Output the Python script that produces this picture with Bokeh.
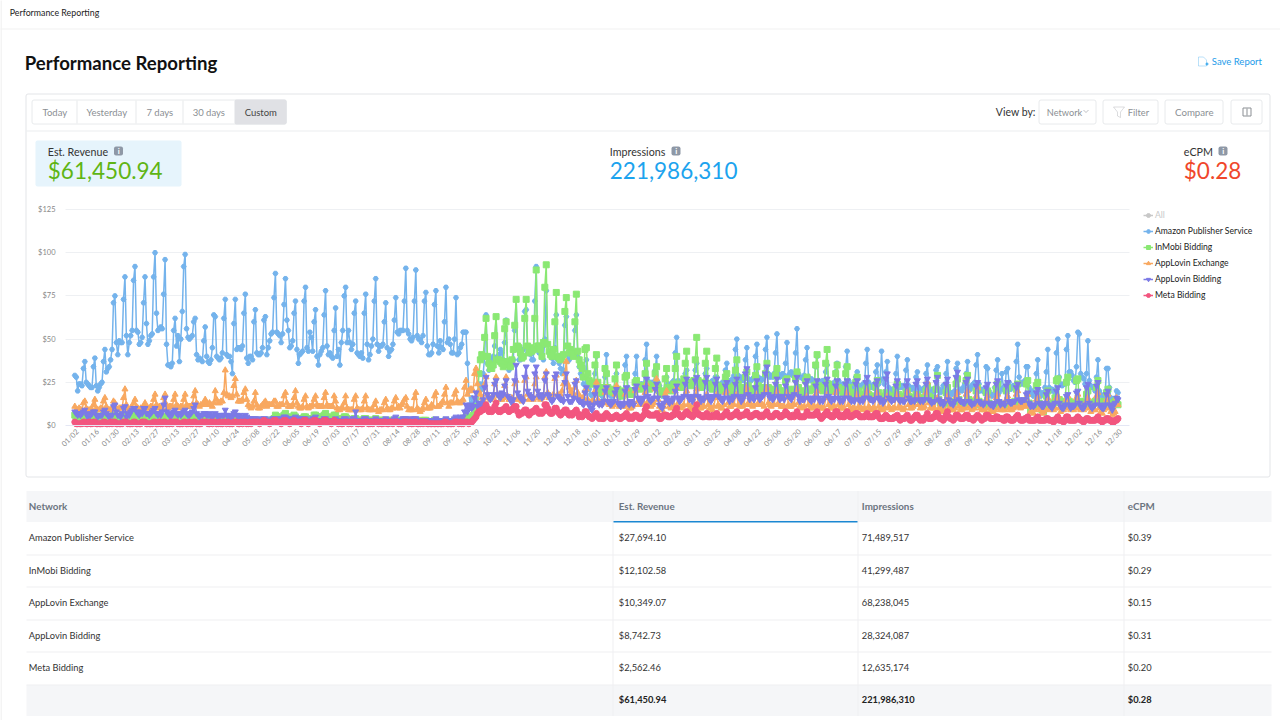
from bokeh.plotting import figure
from bokeh.models import Range1d, FixedTicker, Label, BoxAnnotation, PolyAnnotation, Legend, LegendItem
from bokeh.embed import file_html
from bokeh.resources import INLINE
import math

tick_labels = "01/02 01/16 01/30 02/13 02/27 03/13 03/27 04/10 04/24 05/08 05/22 06/05 06/19 07/03 07/17 07/31 08/14 08/28 09/11 09/25 10/09 10/23 11/06 11/20 12/04 12/18 01/01 01/15 01/29 02/12 02/26 03/11 03/25 04/08 04/22 05/06 05/20 06/03 06/17 07/01 07/15 07/29 08/12 08/26 09/09 09/23 10/07 10/21 11/04 11/18 12/02 12/16 12/30".split()
y_ticks = [0,25,50,75,100,125]
names = ["Amazon Publisher Service","InMobi Bidding","AppLovin Exchange","AppLovin Bidding","Meta Bidding"]
colors = ["#74b3ec","#8ae873","#f8a860","#7c7ae6","#f2557f"]
markers = ["hex","square","triangle","inverted_triangle","circle"]
rows = [("Amazon Publisher Service","$27,694.10","71,489,517","$0.39"),("InMobi Bidding","$12,102.58","41,299,487","$0.29"),("AppLovin Exchange","$10,349.07","68,238,045","$0.15"),("AppLovin Bidding","$8,742.73","28,324,087","$0.31"),("Meta Bidding","$2,562.46","12,635,174","$0.20")]

amazon = [29,28,20,24,24,23,33,
37,25,24,23,22,22,34,
39,23,20,22,24,25,37,
44,31,33,34,38,44,71,
75,48,41,49,48,48,73,
86,52,41,48,52,55,84,
92,55,54,47,48,51,71,
86,59,47,49,52,53,86,
100,65,55,56,57,56,76,
96,47,35,35,34,36,55,
62,46,52,37,50,66,92,
99,56,51,50,51,52,60,
62,41,38,39,38,37,49,
57,40,37,36,38,45,64,
63,40,39,38,39,42,62,
73,41,40,40,37,30,59,
73,44,45,45,44,46,65,
76,39,36,40,40,38,60,
67,42,41,41,42,45,61,
63,41,45,49,53,54,74,
88,54,53,52,48,53,70,
85,61,55,45,46,49,65,
72,44,36,41,42,43,72,
80,45,43,54,51,43,60,
67,40,35,41,43,45,64,
78,46,41,42,40,39,55,
68,40,44,35,48,55,75,
80,48,55,48,44,47,65,
72,42,41,40,42,39,65,
76,47,38,41,46,50,72,
85,47,43,46,46,47,60,
71,45,40,43,44,47,61,
74,54,53,55,55,55,72,
91,55,53,50,49,51,72,
90,52,50,50,48,52,72,
77,46,41,41,42,47,70,
78,46,42,49,45,44,60,
80,48,50,47,42,42,50,
74,41,42,45,47,54,54,
54,36,20,10,16,10,12,
14,12,20,24,21,30,40,
64,36,32,35,38,40,46,
63,40,41,44,42,38,48,
61,36,32,36,34,38,55,
73,44,38,38,40,44,66,
67,42,44,41,38,38,72,
92,44,42,43,41,38,50,
78,47,42,41,39,36,45,
64,38,36,33,30,32,58,
63,37,38,40,41,42,55,
64,40,34,30,28,24,20,
38,24,21,18,17,18,30,
40,22,18,18,17,15,28,
41,21,18,17,17,18,27,
30,18,16,17,18,19,35,
40,22,19,18,19,18,30,
40,24,23,24,24,23,38,
47,26,24,24,25,25,32,
40,25,23,18,17,19,27,
28,24,23,24,25,26,42,
51,26,25,25,23,24,30,
32,24,23,25,25,26,32,
36,27,25,25,24,25,30,
33,25,24,25,26,25,28,
28,24,23,24,25,25,32,
36,26,25,26,27,29,44,
50,29,27,28,26,27,38,
45,27,26,26,27,28,40,
47,28,27,26,27,28,44,
51,30,28,29,28,30,42,
53,30,28,29,30,29,36,
48,29,30,31,29,30,42,
56,30,28,28,27,29,38,
45,28,26,27,26,25,34,
40,26,24,25,26,24,31,
35,25,24,23,24,25,31,
36,26,24,23,24,23,34,
43,26,24,23,24,22,28,
31,23,22,23,24,23,36,
44,25,23,22,23,24,31,
35,24,26,43,27,24,31,
37,22,20,21,20,21,30,
40,24,22,23,22,23,32,
38,23,22,21,22,21,28,
31,22,20,21,20,22,30,
35,22,20,19,21,20,32,
34,21,19,20,23,22,30,
37,20,18,19,18,20,33,
36,20,21,20,22,24,30,
37,22,21,23,24,25,35,
41,24,20,21,20,19,34,
33,20,18,17,18,22,32,
38,19,21,30,22,20,31,
33,25,21,22,23,23,37,
47,28,24,25,24,26,34,
34,22,18,20,17,19,30,
38,20,17,18,19,22,31,
44,22,20,21,20,19,42,
50,28,24,23,24,24,44,
52,31,31,29,26,25,34,
54,53,30,28,27,24,30,
49,26,23,22,22,20,28,
38,20,18,17,16,18,33,
33,22,16,15,14,15,20,
19]

inmobi = [6,5,4,4,5,5,6,
6,5,4,5,4,5,6,
6,5,4,4,5,5,6,
6,4,5,4,5,5,6,
6,5,4,4,5,4,6,
6,5,4,5,5,5,6,
6,5,5,4,5,5,6,
6,4,4,5,4,5,6,
5,5,4,4,5,4,5,
5,4,4,4,5,4,5,
5,4,3,4,4,4,5,
5,4,4,3,4,4,5,
5,4,3,4,3,4,4,
4,4,3,3,4,3,4,
4,3,3,3,4,3,4,
4,3,3,3,3,3,4,
4,3,3,3,3,3,3,
3,3,2,3,2,3,3,
3,3,2,2,3,2,3,
3,2,2,3,3,3,4,
6,5,5,4,4,4,6,
7,5,4,4,4,5,6,
5,4,3,4,4,4,5,
5,4,4,4,4,4,6,
6,5,4,4,5,5,6,
7,5,4,4,4,5,6,
6,4,4,4,4,4,5,
5,4,3,3,3,3,4,
4,3,3,3,3,3,4,
4,3,3,3,3,3,3,
4,3,2,3,3,3,3,
3,3,2,2,3,3,3,
3,3,2,3,2,3,3,
3,2,2,2,3,2,3,
3,2,2,3,2,2,3,
3,2,2,2,2,2,3,
3,2,2,2,2,2,2,
3,2,2,2,2,2,3,
3,3,2,3,3,3,4,
5,4,4,4,5,6,6,
7,11,30,38,41,40,51,
62,40,36,33,33,35,52,
63,38,38,37,36,34,56,
60,37,35,34,38,44,58,
73,46,45,42,39,40,62,
73,46,42,45,43,44,62,
90,46,46,44,40,48,80,
93,47,43,41,40,44,60,
77,40,39,38,40,41,66,
74,46,42,44,42,40,60,
76,43,38,35,33,28,44,
45,30,26,24,24,25,35,
41,25,21,19,21,22,33,
30,22,20,20,21,19,27,
35,21,18,20,17,19,28,
29,19,18,20,18,20,25,
26,23,22,21,23,22,30,
36,24,21,22,23,22,30,
34,23,20,19,18,20,27,
33,22,21,20,22,24,33,
40,24,23,22,23,27,36,
43,25,24,23,25,26,38,
51,26,24,22,23,25,36,
43,24,22,23,21,22,33,
39,23,21,20,21,22,28,
30,22,20,19,21,23,32,
38,24,21,21,20,22,28,
31,23,21,20,21,21,29,
34,23,20,21,20,22,30,
36,22,21,20,21,20,29,
33,22,20,20,19,20,26,
27,21,20,19,20,21,27,
31,22,19,20,19,20,26,
28,21,20,21,21,23,35,
41,23,21,22,20,21,36,
44,24,21,20,21,20,30,
35,22,20,21,19,20,30,
34,22,19,18,19,18,25,
28,20,18,17,18,17,21,
22,18,17,16,17,17,22,
26,19,17,16,15,16,19,
18,17,16,16,17,17,21,
24,18,16,15,16,17,19,
20,17,16,15,16,15,18,
18,16,15,16,15,16,20,
23,17,16,15,16,15,21,
29,15,13,12,12,13,19,
22,14,12,13,12,14,24,
27,15,13,12,12,13,26,
29,15,12,13,12,14,20,
22,14,12,13,11,12,19,
20,13,12,10,11,12,21,
24,13,12,10,11,12,20,
22,13,11,12,13,14,21,
24,14,12,13,12,13,24,
26,13,9,11,10,11,23,
25,13,11,9,8,10,17,
20,12,12,11,13,16,26,
27,15,13,13,12,14,25,
28,14,12,12,11,13,26,
27,14,12,13,12,14,18,
20,13,12,12,13,14,22,
26,14,12,11,13,14,19,
21,13,12,11,13,14,15,
12]

exchange = [11,9,9,10,9,9,13,
14,10,9,9,9,9,12,
15,10,9,9,10,10,14,
16,11,9,9,9,10,14,
13,10,9,10,10,10,16,
21,12,10,9,10,10,13,
15,11,10,9,10,10,11,
13,10,10,10,11,11,15,
18,12,10,11,10,10,16,
18,12,10,11,11,11,15,
18,12,11,10,11,11,15,
18,12,11,11,11,12,17,
20,13,12,11,12,12,13,
15,13,12,13,12,11,13,
20,15,13,13,14,14,19,
32,18,17,17,16,17,23,
27,18,14,14,14,15,19,
21,15,12,11,10,11,14,
19,12,10,10,11,12,13,
14,11,12,12,12,12,14,
14,11,11,12,12,12,17,
19,13,11,11,11,12,16,
20,13,11,10,10,11,15,
17,11,10,11,11,12,15,
17,12,11,11,11,11,16,
19,12,11,11,11,11,17,
14,10,9,9,10,10,13,
17,10,9,9,9,9,15,
17,10,9,9,9,10,14,
17,10,9,9,9,9,12,
14,9,8,9,9,9,13,
15,10,9,9,10,10,14,
16,10,11,10,12,13,15,
16,11,9,9,9,9,16,
19,10,9,8,9,10,13,
15,10,10,10,12,11,17,
19,11,11,12,13,14,18,
22,13,11,13,13,13,18,
20,14,13,13,14,15,22,
26,18,20,21,21,20,30,
33,24,20,18,16,15,24,
28,18,16,15,16,16,24,
28,18,17,15,15,16,23,
28,17,15,15,16,15,24,
26,16,15,15,14,16,26,
28,18,15,16,16,15,24,
28,17,16,15,16,17,28,
31,19,16,17,16,18,27,
29,18,17,18,20,24,30,
37,24,22,20,19,18,22,
26,19,17,15,16,16,20,
21,15,13,13,14,14,20,
25,15,13,12,13,13,19,
22,13,12,12,11,12,18,
23,13,11,12,11,11,18,
21,12,10,10,11,12,20,
22,14,12,13,12,13,19,
24,14,12,11,12,13,21,
27,15,11,9,9,11,18,
20,13,11,10,11,11,20,
22,13,11,10,11,12,18,
20,12,10,11,9,10,17,
21,13,10,10,11,11,16,
18,12,10,10,9,11,16,
18,12,11,10,10,12,19,
20,13,11,11,12,12,17,
18,12,11,12,11,12,18,
22,13,12,12,11,12,17,
18,13,12,12,12,11,20,
22,13,12,11,12,12,18,
20,13,12,11,11,11,17,
19,12,11,11,12,12,19,
21,13,11,11,10,11,16,
17,12,10,10,11,11,18,
20,12,11,10,10,10,16,
18,12,10,10,11,11,19,
21,12,10,11,10,10,17,
19,12,10,9,10,10,16,
18,11,10,10,9,10,18,
20,11,10,9,10,10,17,
19,11,9,10,9,10,16,
17,11,10,9,10,10,16,
18,11,10,10,9,10,17,
20,12,10,10,11,12,16,
18,12,10,11,10,11,19,
25,13,10,11,10,10,15,
16,10,9,9,8,9,15,
17,10,9,9,9,10,17,
19,11,9,9,10,10,18,
20,11,10,9,10,10,17,
22,12,10,9,9,9,15,
17,10,8,9,8,9,16,
18,10,9,9,9,9,15,
17,10,9,9,10,11,18,
20,11,10,11,11,12,16,
18,11,8,9,7,9,15,
17,10,9,7,8,9,14,
16,10,9,10,9,10,16,
17,10,8,9,9,10,15,
17,10,9,10,9,10,16,
18,10,9,10,9,10,14,
16,10,8,9,9,9,17,
19,10,8,7,9,10,15,
18,10,8,6,7,8,16,
12]

bidding = [8,7,6,7,6,7,8,
9,7,5,6,6,7,8,
8,6,5,6,6,6,8,
9,7,6,5,6,6,11,
12,8,6,6,5,7,10,
11,5,7,6,8,9,10,
10,8,7,6,8,7,10,
10,7,7,6,7,8,9,
10,7,6,7,6,8,12,
16,8,7,6,5,7,8,
9,7,6,7,6,7,8,
9,7,6,6,7,8,10,
12,7,6,5,6,6,7,
7,6,6,7,5,5,6,
7,6,5,5,6,6,6,
9,6,5,6,5,5,7,
8,6,5,6,5,4,5,
6,5,4,4,3,4,4,
4,3,3,4,3,3,4,
4,3,3,3,3,4,4,
4,4,3,3,4,4,5,
5,4,3,4,4,3,4,
5,4,3,3,4,4,4,
4,3,3,3,3,4,4,
5,3,3,3,3,3,4,
4,3,3,3,3,3,3,
4,3,3,3,3,3,4,
4,3,3,3,3,4,4,
8,3,3,3,3,3,4,
4,3,3,3,3,3,3,
4,3,3,3,3,3,3,
4,3,3,3,3,3,4,
5,3,3,3,3,4,4,
4,4,3,3,3,4,4,
4,3,3,3,3,3,3,
3,3,2,3,2,3,3,
4,3,2,2,3,3,3,
4,3,3,3,3,3,4,
5,3,3,5,4,5,8,
12,8,11,12,10,11,16,
19,11,13,11,13,15,22,
28,18,16,15,16,18,24,
26,18,17,16,19,18,23,
26,17,16,15,13,15,26,
35,19,17,16,15,14,28,
34,20,18,17,16,16,30,
34,20,17,18,16,17,26,
30,18,17,15,14,15,28,
30,17,16,15,15,14,25,
30,17,14,14,14,16,24,
26,15,14,14,13,12,19,
22,13,12,10,9,12,18,
22,13,12,13,12,14,20,
22,14,13,12,13,14,19,
21,13,12,11,13,12,20,
22,13,12,14,13,12,21,
23,16,15,13,15,16,22,
27,17,15,14,15,16,21,
24,16,12,11,10,13,16,
16,14,13,15,14,16,20,
23,16,14,15,16,17,24,
27,17,15,16,14,17,26,
28,17,16,14,16,15,25,
28,17,15,14,16,17,24,
27,17,16,15,14,16,23,
25,16,14,16,15,17,24,
27,17,16,14,15,17,30,
33,18,15,17,16,15,22,
26,17,15,16,17,18,30,
34,18,16,17,15,16,24,
27,17,15,16,17,15,23,
26,17,16,15,17,18,25,
28,17,14,16,15,15,24,
26,16,15,14,16,15,23,
26,16,14,15,14,16,24,
27,17,15,14,16,15,23,
26,16,14,15,14,16,24,
26,16,15,14,15,14,24,
26,15,14,15,14,16,25,
28,16,15,15,14,15,24,
26,16,14,15,13,14,27,
30,16,15,14,15,15,23,
26,15,14,15,14,14,23,
26,16,14,14,15,14,24,
26,15,14,15,14,15,24,
27,15,14,13,14,14,25,
28,15,13,14,12,13,24,
27,15,13,13,12,14,28,
31,15,14,14,13,13,25,
27,14,13,12,13,13,23,
25,14,13,13,12,13,22,
24,13,12,12,11,13,24,
26,14,12,13,13,12,23,
25,14,13,13,14,14,22,
24,15,14,14,15,15,18,
19,13,11,12,11,12,19,
21,13,12,11,11,13,18,
20,12,11,10,12,13,20,
22,13,11,10,10,12,17,
18,12,10,11,11,12,19,
20,13,11,10,10,12,22,
24,13,11,10,11,12,23,
25,12,11,10,10,12,18,
20,12,11,9,12,13,16,
15]

meta = [2,1,1,1,1,1,2,
2,1,1,2,1,1,2,
2,1,1,1,1,1,2,
2,1,1,1,2,1,2,
2,1,1,1,1,1,2,
2,2,1,1,1,1,2,
2,1,1,1,1,2,2,
2,1,1,1,1,1,2,
2,1,1,2,1,1,2,
2,1,1,1,2,1,2,
2,2,1,1,1,1,2,
2,1,1,2,1,1,2,
2,1,1,1,1,2,2,
2,2,1,1,2,1,2,
2,1,1,2,1,1,2,
2,1,2,1,1,1,2,
2,2,1,1,2,1,2,
2,1,1,2,1,2,2,
2,2,2,1,2,2,3,
2,2,2,1,2,2,3,
3,2,2,2,1,2,3,
3,2,2,1,2,2,3,
2,2,2,2,1,2,3,
3,2,1,2,2,2,3,
3,2,2,1,2,2,3,
3,2,2,2,1,2,3,
2,2,1,2,1,1,2,
2,2,1,2,1,2,2,
2,1,1,2,1,1,2,
2,2,1,1,2,1,2,
2,2,1,2,1,1,2,
2,1,1,2,2,1,2,
2,2,1,1,1,2,2,
2,2,1,2,1,1,2,
2,1,1,1,2,1,2,
2,1,1,1,1,1,1,
1,1,1,1,1,1,2,
2,1,1,1,1,1,2,
2,2,1,2,1,1,2,
2,2,1,2,2,3,4,
5,7,8,8,9,9,10,
12,10,8,9,8,9,11,
13,9,8,8,9,9,10,
11,9,8,9,9,10,11,
11,8,6,7,7,8,9,
9,7,6,7,8,8,9,
10,8,7,8,7,8,12,
12,10,8,7,7,8,10,
10,8,7,6,7,8,9,
9,7,6,7,6,7,8,
9,7,5,6,5,6,8,
8,6,5,5,4,5,6,
7,5,4,5,4,4,6,
7,6,5,4,4,5,5,
6,5,4,4,5,5,6,
7,5,4,5,4,5,6,
6,5,4,4,5,6,9,
11,7,6,6,6,6,6,
7,6,4,4,5,6,6,
6,5,5,5,6,6,8,
10,7,6,5,5,6,7,
8,7,6,6,5,6,9,
12,7,6,6,5,5,6,
7,5,5,5,6,5,6,
7,5,5,5,5,6,7,
8,6,5,5,6,6,7,
8,6,5,6,6,6,7,
8,6,5,5,6,6,7,
7,6,5,6,5,6,7,
8,6,5,5,5,6,7,
7,6,5,5,6,6,8,
7,6,5,5,6,5,6,
8,6,5,5,5,5,6,
8,6,6,6,6,6,7,
8,6,5,4,5,6,7,
8,6,6,5,5,6,8,
8,6,5,6,5,5,7,
8,6,5,5,6,6,7,
7,6,5,5,5,5,6,
7,5,5,5,5,6,7,
7,5,4,4,4,5,6,
5,4,4,4,4,5,5,
6,4,3,4,4,4,5,
6,4,3,3,4,5,6,
6,4,3,4,3,4,5,
7,4,4,4,5,5,7,
7,5,4,4,3,4,6,
8,5,4,4,3,4,6,
6,5,4,4,4,5,6,
6,4,4,4,3,4,5,
6,5,4,3,4,4,6,
6,5,4,4,4,4,5,
5,4,4,4,3,3,5,
5,4,3,3,3,4,5,
6,4,3,3,3,4,4,
5,3,3,3,3,3,4,
5,3,3,3,3,3,4,
4,3,3,3,2,3,4,
5,3,3,3,2,3,5,
5,3,3,3,3,3,4,
5,4,3,3,2,3,4,
4,3,3,3,3,3,4,
5,3,3,2,3,3,4,
4,3,3,2,2,3,3,
4]
series = [amazon,inmobi,exchange,bidding,meta]

FONT="Lato"
PXD=(1116.7-73.5)/728; PXV=216/125
x_at=lambda px:(px-74.3)/PXD
y_at=lambda py:(425-py)/PXV
p = figure(width=1280,height=720,output_backend="svg",toolbar_location=None,
           x_range=Range1d(x_at(0),x_at(1280)),y_range=Range1d(y_at(720),y_at(0)),
           min_border=0,outline_line_color=None)
XL,XR=x_at(65),x_at(1129)
p.xgrid.visible=False
p.ygrid.ticker=FixedTicker(ticks=y_ticks[1:])
p.ygrid.grid_line_color="#eef0f3"; p.ygrid.cross_bounds=(XL,XR)
ya=p.yaxis[0]
ya.fixed_location=XL; ya.ticker=FixedTicker(ticks=y_ticks); ya.major_label_overrides={v:f"${v}" for v in y_ticks}
ya.axis_line_color=None; ya.major_tick_line_color=None; ya.minor_tick_line_color=None; ya.major_tick_out=0; ya.major_tick_in=0
ya.major_label_text_font=FONT; ya.major_label_text_font_size="7.5px"; ya.major_label_text_color="#888888"; ya.major_label_standoff=10
LABEL_SHIFT=2
ticks=[i*14+LABEL_SHIFT for i in range(len(tick_labels))]
xa=p.xaxis[0]
xa.fixed_location=0; xa.ticker=FixedTicker(ticks=ticks); xa.bounds=(XL,XR); xa.major_label_overrides={t:l for t,l in zip(ticks,tick_labels)}
xa.major_label_orientation=math.pi/4; xa.axis_line_color="#e4e7f4"; xa.major_tick_line_color=None; xa.minor_tick_line_color=None; xa.major_tick_in=0; xa.major_tick_out=3
xa.major_label_text_font=FONT; xa.major_label_text_font_size="7.5px"; xa.major_label_text_color="#888888"; xa.major_label_standoff=2

def box(x0,y0,x1,y1,fill=None,line=None,radius=0):
    p.add_layout(BoxAnnotation(left=x0-1,right=x1-1,top=y0-1,bottom=y1-1,left_units="canvas",right_units="canvas",top_units="canvas",bottom_units="canvas",
        fill_color=fill,fill_alpha=1 if fill else 0,line_color=line,line_alpha=1 if line else 0,line_width=1,border_radius=radius,level="underlay"))
def text(x,y,s,size=10,color="#333333",weight="normal",align="left"):
    p.add_layout(Label(x=x-0.7,y=y-0.7,x_units="canvas",y_units="canvas",text=s,text_font=FONT,text_font_size=f"{size}px",text_color=color,text_font_style=weight,text_align=align,text_baseline="middle",level="overlay"))
def poly(pts,line):
    p.add_layout(PolyAnnotation(xs=[a-1 for a,b in pts],ys=[b-1 for a,b in pts],xs_units="canvas",ys_units="canvas",fill_alpha=0,line_color=line,line_width=1,level="underlay"))

# page chrome
GREY="#8b8f94"; BORDER="#e8eaec"
box(1,0,2,721,fill="#e9e9e9")
box(0,29,1281,30,fill="#f1f1f1")
text(10,13,"Performance Reporting",8.8,"#222222")
text(25,63,"Performance Reporting",18.6,"#111111","bold")
text(1212,62,"Save Report",9.5,"#1d9bea")
poly([(1199,57.5),(1204,57.5),(1207,60.5),(1207,66.5),(1199,66.5)],"#1d9bea")
box(1206,64,1209,65,fill="#1d9bea"); box(1207,63,1208,66,fill="#1d9bea")
box(26.5,94.5,1270.5,477.5,line="#e3e5e8",radius=2)
box(27,131,1270,132,fill="#eceef0")
box(32.5,100.5,287,124.5,line=BORDER,radius=2)
box(235,100,287,125,fill="#e0e1e5",radius=2)
for x in (77,136,183):
    box(x,101,x+1,124,fill=BORDER)
for s,x in (("Today",55),("Yesterday",107),("7 days",160),("30 days",209)):
    text(x,112.5,s,9.5,GREY,align="center")
text(261,112.5,"Custom",9.5,"#444444",align="center")
text(996,112.5,"View by:",10.5,"#333333")
for x0,x1 in ((1039.5,1096.5),(1103.5,1158.5),(1165.5,1223.5),(1231.5,1262.5)):
    box(x0,100.5,x1,124.5,line=BORDER,radius=2)
text(1047,112.5,"Network",9.2,GREY)
poly([(1084,110.5),(1086.5,113),(1089,110.5),(1086.5,113)],GREY)
poly([(1114,107.5),(1125,107.5),(1121,112.5),(1121,118),(1118,116.5),(1118,112.5)],GREY)
text(1128,112.5,"Filter",9.3,GREY)
text(1194.5,112.5,"Compare",9.7,GREY,align="center")
box(1243.5,108.5,1251.5,116.5,line=GREY); box(1247,109,1248,116,fill=GREY)
box(36,141,182,187,fill="#e6f4fc",radius=2)
text(48,151.5,"Est. Revenue",10.7,"#333333")
text(610,151.5,"Impressions",10.7,"#333333")
text(1184,151.5,"eCPM",10.7,"#333333")
for x in (114.5,672,1219):
    box(x,147,x+9,156,fill="#8e98a6",radius=2)
    text(x+4.5,151.5,"i",8,"#ffffff","bold",align="center")
text(48,170.5,"$61,450.94",22.5,"#5fb514")
text(610,170.5,"221,986,310",22.5,"#1ca3ee")
text(1184,170.5,"$0.28",22.5,"#f0472b")

# table
box(27,491.5,1272,522.5,fill="#f5f6f8")
box(27,685.5,1272,716.5,fill="#f5f6f8")
for y in (555,587,620,652,685):
    box(27,y,1272,y+1,fill="#eff0f2")
for x in (613,858,1124):
    box(x,491.5,x+1,716.5,fill="#eff0f2")
box(614,521.5,858,523,fill="#1b87d2")
for s,x in (("Network",29),("Est. Revenue",619),("Impressions",862),("eCPM",1128)):
    text(x,506.5,s,9.8,"#6b7480","bold")
for (n,a,b,c),y in zip(rows,(538,570.5,603,635.5,668)):
    text(29,y,n,9.3,"#333333"); text(619,y,a,9.3,"#333333"); text(862,y,b,9.3,"#333333"); text(1128,y,c,9.3,"#333333")
text(619,700,"$61,450.94",9.3,"#222222","bold"); text(862,700,"221,986,310",9.3,"#222222","bold"); text(1128,700,"$0.28",9.3,"#222222","bold")

# series
items=[]
for vals,n,c,m in zip(series,names,colors,markers):
    xs=list(range(len(vals)))
    l=p.line(xs,vals,line_color=c,line_width=1.5)
    s=p.scatter(xs,vals,marker=m,size=6 if m!="hex" else 5,fill_color=c,line_color=c)
    items.append(LegendItem(label=n,renderers=[l,s]))
def legend(its,top,color):
    n=len(its); h=n*10+(n-1)*6
    lg=Legend(items=its,location=(1143,720-(top+h)),orientation="vertical",glyph_width=10,glyph_height=10,label_height=8,label_standoff=2,spacing=6,padding=0,margin=0,
        border_line_color=None,background_fill_alpha=0,label_text_font=FONT,label_text_font_size="8.6px",label_text_color=color)
    p.add_layout(lg)
nan=float("nan")
all_l=p.line([0,1],[nan,nan],line_color="#c8c8c8",line_width=1.5); all_s=p.scatter([0,1],[nan,nan],marker="circle",size=5,color="#c8c8c8")
legend([LegendItem(label="All",renderers=[all_l,all_s])],210,"#c8c8c8")
legend(items,226,"#222222")
open("out.html","w").write(file_html(p,INLINE))
